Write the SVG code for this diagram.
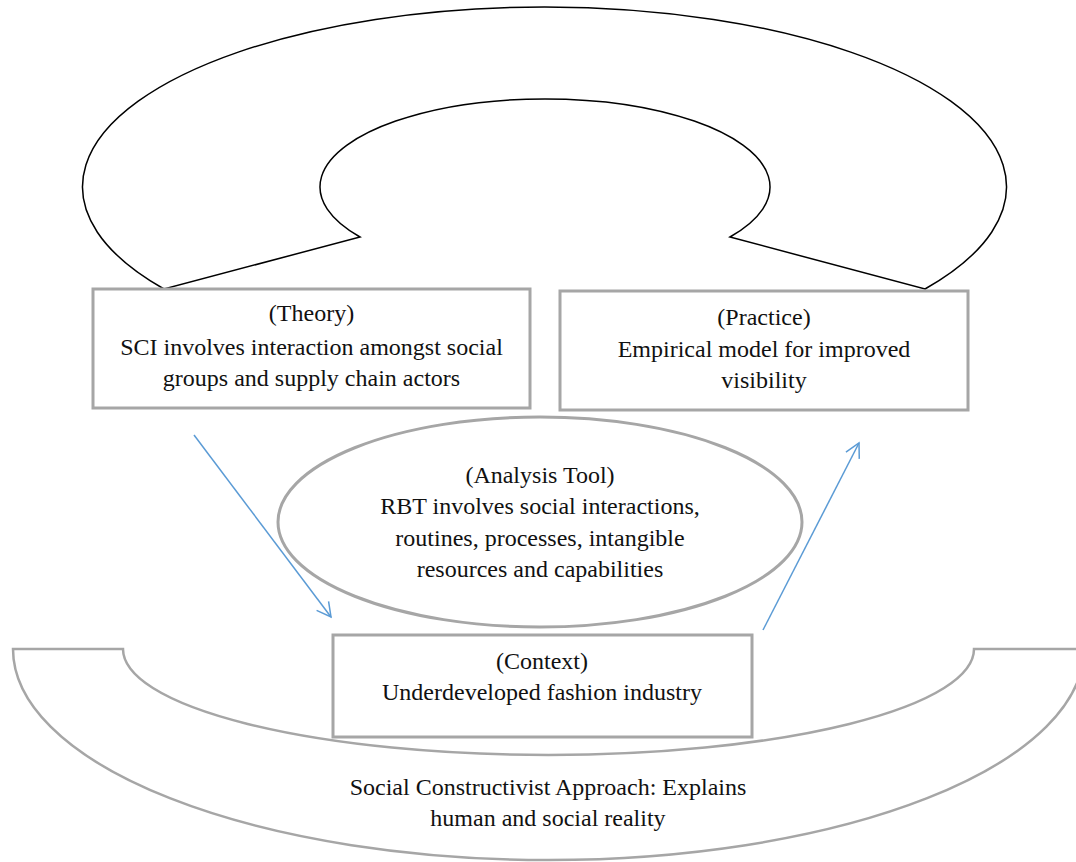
<svg xmlns="http://www.w3.org/2000/svg" width="1076" height="862" viewBox="0 0 1076 862">
<style>
.box{fill:#fff;stroke:#a6a6a6;stroke-width:3}
.t{font-family:"Liberation Serif","Times New Roman",serif;font-size:24px;fill:#111;text-anchor:middle}
.con{stroke:#5b9bd5;stroke-width:1.5;fill:none}
</style>
<defs>
<marker id="ah" markerUnits="userSpaceOnUse" markerWidth="18" markerHeight="18" refX="16" refY="9" orient="auto" viewBox="0 0 18 18">
<path d="M2,1.5 L16,9 L2,16.5" fill="none" stroke="#5b9bd5" stroke-width="1.5"/>
</marker>
</defs>
<rect width="1076" height="862" fill="#fff"/>
<g id="foundation">
<path d="M13,649 L123,649 A425.5,106 0 0 0 974,649 L1084,649 A535.5,211 0 0 1 13,649 Z" fill="#fff" stroke="#a6a6a6" stroke-width="2.5"/>
<text class="t" x="548" y="795">Social Constructivist Approach: Explains</text>
<text class="t" x="548" y="826">human and social reality</text>
</g>
<g id="cycle-arc">
<path d="M164,289 A462,180 0 1 1 925,289 L730,237 A225,88 0 1 0 360,237 Z" fill="#fff" stroke="#000" stroke-width="1.5"/>
</g>
<g id="theory">
<rect class="box" x="93" y="289" width="437" height="119"/>
<text class="t" x="311.5" y="321">(Theory)</text>
<text class="t" x="311.5" y="355">SCI involves interaction amongst social</text>
<text class="t" x="311.5" y="386">groups and supply chain actors</text>
</g>
<g id="practice">
<rect class="box" x="560" y="291" width="408" height="119"/>
<text class="t" x="764" y="325">(Practice)</text>
<text class="t" x="764" y="357">Empirical model for improved</text>
<text class="t" x="764" y="388">visibility</text>
</g>
<g id="analysis">
<ellipse cx="540" cy="522" rx="262" ry="105" fill="#fff" stroke="#a6a6a6" stroke-width="3"/>
<text class="t" x="540" y="483">(Analysis Tool)</text>
<text class="t" x="540" y="514">RBT involves social interactions,</text>
<text class="t" x="540" y="546">routines, processes, intangible</text>
<text class="t" x="540" y="577">resources and capabilities</text>
</g>
<g id="context">
<rect class="box" x="333" y="635" width="419" height="102"/>
<text class="t" x="542" y="669">(Context)</text>
<text class="t" x="542" y="700">Underdeveloped fashion industry</text>
</g>
<g id="connectors">
<line class="con" x1="194" y1="435" x2="331" y2="617" marker-end="url(#ah)"/>
<line class="con" x1="763" y1="630" x2="859" y2="443" marker-end="url(#ah)"/>
</g>
</svg>
